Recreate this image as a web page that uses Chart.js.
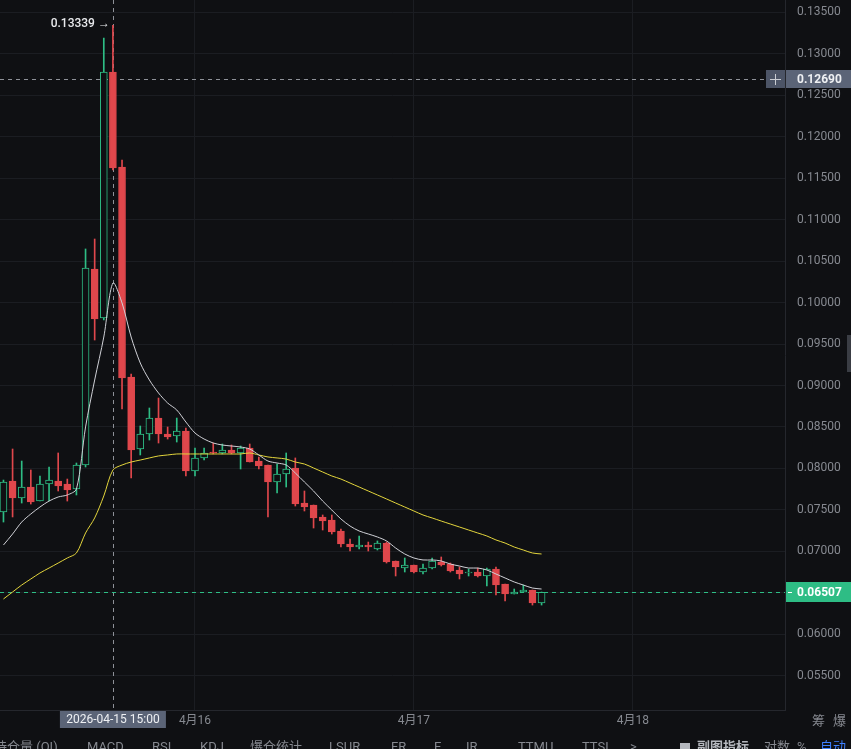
<!DOCTYPE html>
<html>
<head>
<meta charset="utf-8">
<script src="https://cdn.jsdelivr.net/npm/chart.js@4.4.1/dist/chart.umd.min.js"></script>
<style>
  html, body { margin: 0; padding: 0; background: #0f1013; overflow: hidden; }
</style>
</head>
<body>
<canvas id="kline" width="851" height="749"></canvas>
<script>
// hourly candles, hours counted from 2026-04-15 00:00
const candleHours = [3,4,5,6,7,8,9,10,11,12,13,14,15,16,17,18,19,20,21,22,
  23,24,25,26,27,28,29,30,31,32,33,34,35,36,37,38,39,40,41,42,
  43,44,45,46,47,48,49,50,51,52,53,54,55,56,57,58,59,60,61,62];

const open = [0.07476,0.07849,0.07645,0.07777,0.07608,0.07813,0.07849,0.07813,0.07753,0.08042,
  0.10404,0.09813,0.12777,0.11633,0.09102,0.08235,0.08416,0.08608,0.08416,0.08392,
  0.08452,0.07970,0.08127,0.08199,0.08187,0.08223,0.08187,0.08247,0.08090,0.08042,
  0.07837,0.07934,0.08006,0.07584,0.07560,0.07416,0.07380,0.07247,0.07090,0.07054,
  0.07078,0.07030,0.07102,0.06886,0.06801,0.06837,0.06753,0.06801,0.06873,0.06849,
  0.06777,0.06741,0.06753,0.06705,0.06789,0.06608,0.06488,0.06512,0.06536,0.06380];

const high = [0.07861,0.08235,0.08090,0.07982,0.07910,0.08018,0.08187,0.07873,0.08066,0.10645,
  0.10765,0.13187,0.13339,0.11717,0.09139,0.08512,0.08729,0.08849,0.08500,0.08608,
  0.08488,0.08247,0.08247,0.08307,0.08295,0.08283,0.08271,0.08295,0.08139,0.08042,
  0.08054,0.08187,0.08127,0.07729,0.07560,0.07440,0.07440,0.07271,0.07151,0.07187,
  0.07114,0.07127,0.07114,0.06886,0.06922,0.06837,0.06849,0.06922,0.06934,0.06861,
  0.06813,0.06789,0.06801,0.06801,0.06813,0.06608,0.06548,0.06596,0.06536,0.06512];

const low = [0.07355,0.07416,0.07584,0.07572,0.07608,0.07608,0.07729,0.07608,0.07681,0.08018,
  0.09548,0.09789,0.11596,0.08717,0.07886,0.08163,0.08343,0.08307,0.08355,0.08319,
  0.07910,0.07910,0.08102,0.08175,0.08175,0.08175,0.07994,0.08078,0.07994,0.07416,
  0.07705,0.07777,0.07548,0.07488,0.07283,0.07259,0.07211,0.07054,0.07006,0.07030,
  0.07006,0.07018,0.06861,0.06705,0.06753,0.06741,0.06729,0.06789,0.06825,0.06753,
  0.06669,0.06705,0.06693,0.06584,0.06476,0.06404,0.06488,0.06512,0.06355,0.06355];

const close = [0.07837,0.07645,0.07777,0.07596,0.07813,0.07861,0.07789,0.07741,0.08042,0.10416,
  0.09801,0.12777,0.11620,0.09090,0.08223,0.08416,0.08608,0.08416,0.08380,0.08452,
  0.07970,0.08127,0.08187,0.08187,0.08223,0.08187,0.08247,0.08078,0.08030,0.07837,
  0.07934,0.07994,0.07572,0.07536,0.07404,0.07367,0.07235,0.07090,0.07054,0.07078,
  0.07054,0.07102,0.06873,0.06813,0.06837,0.06753,0.06801,0.06886,0.06837,0.06765,
  0.06729,0.06753,0.06705,0.06789,0.06596,0.06488,0.06512,0.06536,0.06380,0.06507];

// short moving average (white) and long one (yellow)
const maShort = [0.07078,0.07211,0.07355,0.07452,0.07536,0.07608,0.07657,0.07681,0.07753,0.08500,
  0.09066,0.09584,0.10235,0.09994,0.09584,0.09271,0.09066,0.08910,0.08789,0.08705,
  0.08560,0.08428,0.08355,0.08307,0.08283,0.08271,0.08259,0.08235,0.08163,0.08090,
  0.08066,0.08042,0.07946,0.07837,0.07729,0.07608,0.07500,0.07392,0.07307,0.07247,
  0.07211,0.07175,0.07127,0.07042,0.06970,0.06922,0.06898,0.06898,0.06886,0.06849,
  0.06825,0.06801,0.06801,0.06777,0.06729,0.06681,0.06633,0.06596,0.06560,0.06548];

const maLong = [0.06428,0.06512,0.06596,0.06669,0.06741,0.06801,0.06861,0.06922,0.06982,0.07223,
  0.07404,0.07669,0.07982,0.08042,0.08078,0.08102,0.08127,0.08151,0.08163,0.08175,
  0.08175,0.08175,0.08175,0.08175,0.08175,0.08175,0.08175,0.08187,0.08163,0.08139,
  0.08127,0.08114,0.08078,0.08054,0.08006,0.07958,0.07910,0.07873,0.07825,0.07777,
  0.07729,0.07681,0.07633,0.07584,0.07536,0.07488,0.07440,0.07404,0.07367,0.07331,
  0.07295,0.07259,0.07223,0.07187,0.07139,0.07102,0.07054,0.07018,0.06982,0.06970];

const dayTickHours = [24, 48, 72];
const dayTickLabels = ['4月16', '4月17', '4月18'];
const priceTicks = [0.055,0.060,0.065,0.070,0.075,0.080,0.085,0.090,0.095,
  0.100,0.105,0.110,0.115,0.120,0.125,0.130,0.135];

const crosshairHour = 15;
const crosshairLabel = '2026-04-15 15:00';
const crosshairPrice = 0.12690;
const lastPrice = 0.06507;
const peakHour = 15;
const peakPrice = 0.13339;

const UP = '#2ebd85';
const DOWN = '#e0474c';
const BG = '#0f1013';
const GRID = '#1b1d22';
const TEXT = '#868990';

Chart.defaults.font.family = 'Roboto, "Noto Sans CJK SC", sans-serif';

const isUp = close.map((c, i) => c >= open[i]);

function noPadding(axis) {
  axis.paddingTop = 0;
  axis.paddingBottom = 0;
  axis.paddingLeft = 0;
  axis.paddingRight = 0;
}

// Draws background, crosshair, price lines and the side labels
const overlay = {
  id: 'overlay',
  beforeDraw(chart) {
    const ctx = chart.ctx;
    ctx.save();
    ctx.fillStyle = BG;
    ctx.fillRect(0, 0, chart.width, chart.height);
    ctx.restore();
  },
  beforeDatasetsDraw(chart) {
    const { ctx, chartArea: a, scales: { x, y } } = chart;
    const cx = Math.round(x.getPixelForValue(crosshairHour)) + 0.5;
    const cy = Math.round(y.getPixelForValue(crosshairPrice)) + 0.5;
    const py = Math.round(y.getPixelForValue(lastPrice)) + 0.5;
    ctx.save();
    ctx.lineWidth = 1;
    ctx.setLineDash([4, 4]);
    ctx.strokeStyle = '#8e9198';
    ctx.beginPath();
    ctx.moveTo(cx, a.top);
    ctx.lineTo(cx, a.bottom);
    ctx.moveTo(a.left, cy);
    ctx.lineTo(a.right - 20, cy);
    ctx.stroke();
    ctx.strokeStyle = UP;
    ctx.beginPath();
    ctx.moveTo(a.left, py);
    ctx.lineTo(a.right, py);
    ctx.stroke();
    ctx.restore();
  },
  afterDraw(chart) {
    const { ctx, chartArea: a, scales: { x, y } } = chart;
    const W = chart.width;
    const cx = x.getPixelForValue(crosshairHour);
    const cy = Math.round(y.getPixelForValue(crosshairPrice));
    const py = Math.round(y.getPixelForValue(lastPrice));
    ctx.save();
    ctx.textBaseline = 'middle';

    // crosshair price box with "+" button
    ctx.fillStyle = '#4c5466';
    ctx.fillRect(a.right - 19, cy - 9, 19, 18);
    ctx.strokeStyle = '#c9ccd2';
    ctx.lineWidth = 1;
    ctx.beginPath();
    ctx.moveTo(a.right - 15, cy + 0.5);
    ctx.lineTo(a.right - 4, cy + 0.5);
    ctx.moveTo(a.right - 9.5, cy - 5);
    ctx.lineTo(a.right - 9.5, cy + 6);
    ctx.stroke();
    ctx.fillStyle = '#5b6477';
    ctx.fillRect(a.right + 1, cy - 9, W - a.right - 1, 18);
    ctx.fillStyle = '#eef0f3';
    ctx.font = 'bold 12px Roboto, sans-serif';
    ctx.textAlign = 'left';
    ctx.fillText(crosshairPrice.toFixed(5), a.right + 12, cy + 1);

    // last price box
    ctx.fillStyle = UP;
    ctx.fillRect(a.right + 1, py - 10, W - a.right - 1, 20);
    ctx.fillStyle = '#ffffff';
    ctx.fillRect(a.right + 3, py, 4, 1);
    ctx.fillText(lastPrice.toFixed(5), a.right + 12, py + 1);

    // crosshair time box
    ctx.fillStyle = '#5b6477';
    ctx.fillRect(cx - 53, a.bottom + 1, 106, 17);
    ctx.fillStyle = '#eef0f3';
    ctx.font = '12px Roboto, sans-serif';
    ctx.textAlign = 'center';
    ctx.fillText(crosshairLabel, cx, a.bottom + 10);

    // peak marker
    const hx = x.getPixelForValue(peakHour);
    const hy = y.getPixelForValue(peakPrice);
    ctx.textAlign = 'right';
    ctx.font = '500 12px Roboto, sans-serif';
    ctx.fillStyle = '#e8e9ec';
    ctx.fillText(peakPrice.toFixed(5) + ' →', hx - 3, hy - 1);

    // right side small texts
    ctx.textAlign = 'left';
    ctx.fillStyle = TEXT;
    ctx.font = '13px "Noto Sans CJK SC", sans-serif';
    ctx.fillText('筹', 812, a.bottom + 10);
    ctx.fillText('爆', 833, a.bottom + 10);
    ctx.fillStyle = '#3a3d44';
    ctx.fillRect(847, 335, 4, 37);

    // indicator tabs, cut by the bottom edge
    const tabs = [['持仓量 (OI)', -6], ['MACD', 87], ['RSI', 152], ['KDJ', 200], ['爆仓统计', 250],
      ['LSUR', 329], ['FR', 391], ['E', 434], ['IR', 466], ['TTMU', 518], ['TTSL', 582], ['>', 630]];
    ctx.textBaseline = 'top';
    ctx.font = '13px Roboto, "Noto Sans CJK SC", sans-serif';
    ctx.fillStyle = TEXT;
    tabs.forEach(([t, tx]) => ctx.fillText(t, tx, 741));
    ctx.fillStyle = '#b4b7bd';
    ctx.font = 'bold 13px Roboto, "Noto Sans CJK SC", sans-serif';
    ctx.fillText('副图指标', 697, 741);
    ctx.fillRect(680, 743, 10, 6);
    ctx.font = '13px Roboto, "Noto Sans CJK SC", sans-serif';
    ctx.fillStyle = TEXT;
    ctx.fillText('对数', 764, 741);
    ctx.fillText('%', 797, 741);
    ctx.fillStyle = '#3d7fff';
    ctx.fillText('自动', 820, 741);
    ctx.restore();
  }
};

new Chart(document.getElementById('kline'), {
  type: 'bar',
  data: {
    datasets: [
      {
        type: 'line',
        data: candleHours.map((h, i) => ({ x: h, y: maShort[i] })),
        borderColor: '#cfd0d6',
        borderWidth: 1,
        pointRadius: 0,
        tension: 0.3,
        order: 1
      },
      {
        type: 'line',
        data: candleHours.map((h, i) => ({ x: h, y: maLong[i] })),
        borderColor: '#e3d53c',
        borderWidth: 1,
        pointRadius: 0,
        tension: 0.3,
        order: 1
      },
      {
        type: 'bar',
        data: candleHours.map((h, i) => ({ x: h, y: [open[i], close[i]] })),
        backgroundColor: isUp.map(u => u ? BG : DOWN),
        borderColor: isUp.map(u => u ? UP : DOWN),
        borderWidth: 1,
        borderSkipped: false,
        barThickness: 7,
        minBarLength: 1,
        grouped: false,
        order: 2
      },
      {
        type: 'bar',
        data: candleHours.map((h, i) => ({ x: h, y: [low[i], high[i]] })),
        backgroundColor: isUp.map(u => u ? UP : DOWN),
        barThickness: 1,
        grouped: false,
        order: 3
      }
    ]
  },
  options: {
    responsive: false,
    animation: false,
    devicePixelRatio: 1,
    layout: { padding: 0 },
    plugins: { legend: { display: false }, tooltip: { enabled: false } },
    scales: {
      x: {
        type: 'linear',
        offset: false,
        min: 2.62,
        max: 88.69,
        grid: { color: GRID, drawTicks: false, tickLength: 0, offset: false },
        border: { color: '#25272d' },
        ticks: {
          color: TEXT,
          font: { size: 12 },
          padding: 4,
          maxRotation: 0,
          callback: (v, i) => dayTickLabels[i]
        },
        afterBuildTicks: axis => { axis.ticks = dayTickHours.map(v => ({ value: v })); },
        afterFit: axis => { axis.height = 39; noPadding(axis); }
      },
      y: {
        type: 'linear',
        position: 'right',
        min: 0.0509036,
        max: 0.1364458,
        grid: { color: GRID, drawTicks: false, tickLength: 0 },
        border: { color: '#25272d' },
        ticks: {
          color: TEXT,
          font: { size: 12 },
          padding: 12,
          callback: v => v.toFixed(5)
        },
        afterBuildTicks: axis => { axis.ticks = priceTicks.map(v => ({ value: v })); },
        afterFit: axis => { axis.width = 66; noPadding(axis); }
      }
    }
  },
  plugins: [overlay]
});
</script>
</body>
</html>
